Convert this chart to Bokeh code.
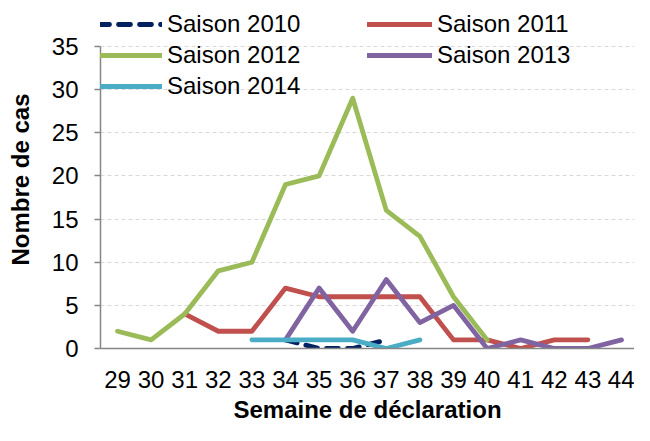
from bokeh.plotting import figure
from bokeh.models import Legend, LegendItem, FixedTicker, Range1d
from bokeh.embed import file_html
from bokeh.resources import INLINE

weeks_2010 = [34, 35, 36, 37]
cases_2010 = [1, 0, 0, 1]
weeks_2011 = [31, 32, 33, 34, 35, 36, 37, 38, 39, 40, 41, 42, 43]
cases_2011 = [4, 2, 2, 7, 6, 6, 6, 6, 1, 1, 0, 1, 1]
weeks_2012 = [29, 30, 31, 32, 33, 34, 35, 36, 37, 38, 39, 40]
cases_2012 = [2, 1, 4, 9, 10, 19, 20, 29, 16, 13, 6, 1]
weeks_2013 = [34, 35, 36, 37, 38, 39, 40, 41, 42, 43, 44]
cases_2013 = [1, 7, 2, 8, 3, 5, 0, 1, 0, 0, 1]
weeks_2014 = [33, 34, 35, 36, 37, 38]
cases_2014 = [1, 1, 1, 1, 0, 1]
week_ticks = list(range(29, 45))
y_ticks = [0, 5, 10, 15, 20, 25, 30, 35]

FONT = "Liberation Sans"

p = figure(width=634, height=425, output_backend="svg", toolbar_location=None,
           x_range=Range1d(28.494, 44.387), y_range=Range1d(0, 39.17),
           min_border_left=100, min_border_right=0, min_border_top=10, min_border_bottom=77)
p.outline_line_color = None
p.background_fill_color = "white"

p.xaxis.ticker = FixedTicker(ticks=week_ticks)
p.yaxis.ticker = FixedTicker(ticks=y_ticks)
p.yaxis.bounds = (0, 35)
for ax in (p.xaxis[0], p.yaxis[0]):
    ax.axis_line_color = "#868686"
    ax.axis_line_width = 1.5
    ax.major_label_text_font = FONT
    ax.major_label_text_font_size = "24px"
    ax.major_label_text_color = "black"
    ax.minor_tick_line_color = None
    ax.axis_label_text_font = FONT
    ax.axis_label_text_font_style = "bold"
    ax.axis_label_text_font_size = "24px"
    ax.axis_label_text_color = "black"
p.xaxis.major_tick_line_color = None
p.xaxis.major_label_standoff = 16
p.xaxis.axis_label = "Semaine de déclaration"
p.xaxis.axis_label_standoff = 5
p.yaxis.major_tick_line_color = "#868686"
p.yaxis.major_tick_line_width = 1.5
p.yaxis.major_tick_out = 6
p.yaxis.major_tick_in = 0
p.yaxis.major_label_standoff = 16
p.yaxis.axis_label = "Nombre de cas"
p.yaxis.axis_label_standoff = 15

p.xgrid.grid_line_color = None
p.ygrid.grid_line_color = "#D9D9D9"
p.ygrid.grid_line_dash = "4 3"
p.ygrid.grid_line_width = 1.2
p.ygrid.bounds = (0, 35)

lw = 4.8
common = dict(line_width=lw, line_join="round", line_cap="round")
r2010 = p.line(weeks_2010, cases_2010, line_color="#002060", line_dash="12 9", **common)
r2011 = p.line(weeks_2011, cases_2011, line_color="#C0504D", **common)
r2012 = p.line(weeks_2012, cases_2012, line_color="#9BBB59", **common)
r2013 = p.line(weeks_2013, cases_2013, line_color="#8064A2", **common)
r2014 = p.line(weeks_2014, cases_2014, line_color="#4BACC6", **common)

legend = Legend(items=[
    LegendItem(label="Saison 2010", renderers=[r2010]),
    LegendItem(label="Saison 2012", renderers=[r2012]),
    LegendItem(label="Saison 2014", renderers=[r2014]),
    LegendItem(label="Saison 2011", renderers=[r2011]),
    LegendItem(label="Saison 2013", renderers=[r2013]),
], ncols=2, location=(-3, 248), orientation="vertical")
legend.glyph_width = 65
legend.glyph_height = 28
legend.label_height = 28
legend.label_width = 197
legend.label_standoff = 5
legend.spacing = 3
legend.padding = 0
legend.margin = 0
legend.border_line_color = None
legend.background_fill_alpha = 0
legend.label_text_font = FONT
legend.label_text_font_size = "24px"
legend.label_text_color = "black"
p.add_layout(legend, "center")

open("out.html", "w").write(file_html(p, INLINE))
